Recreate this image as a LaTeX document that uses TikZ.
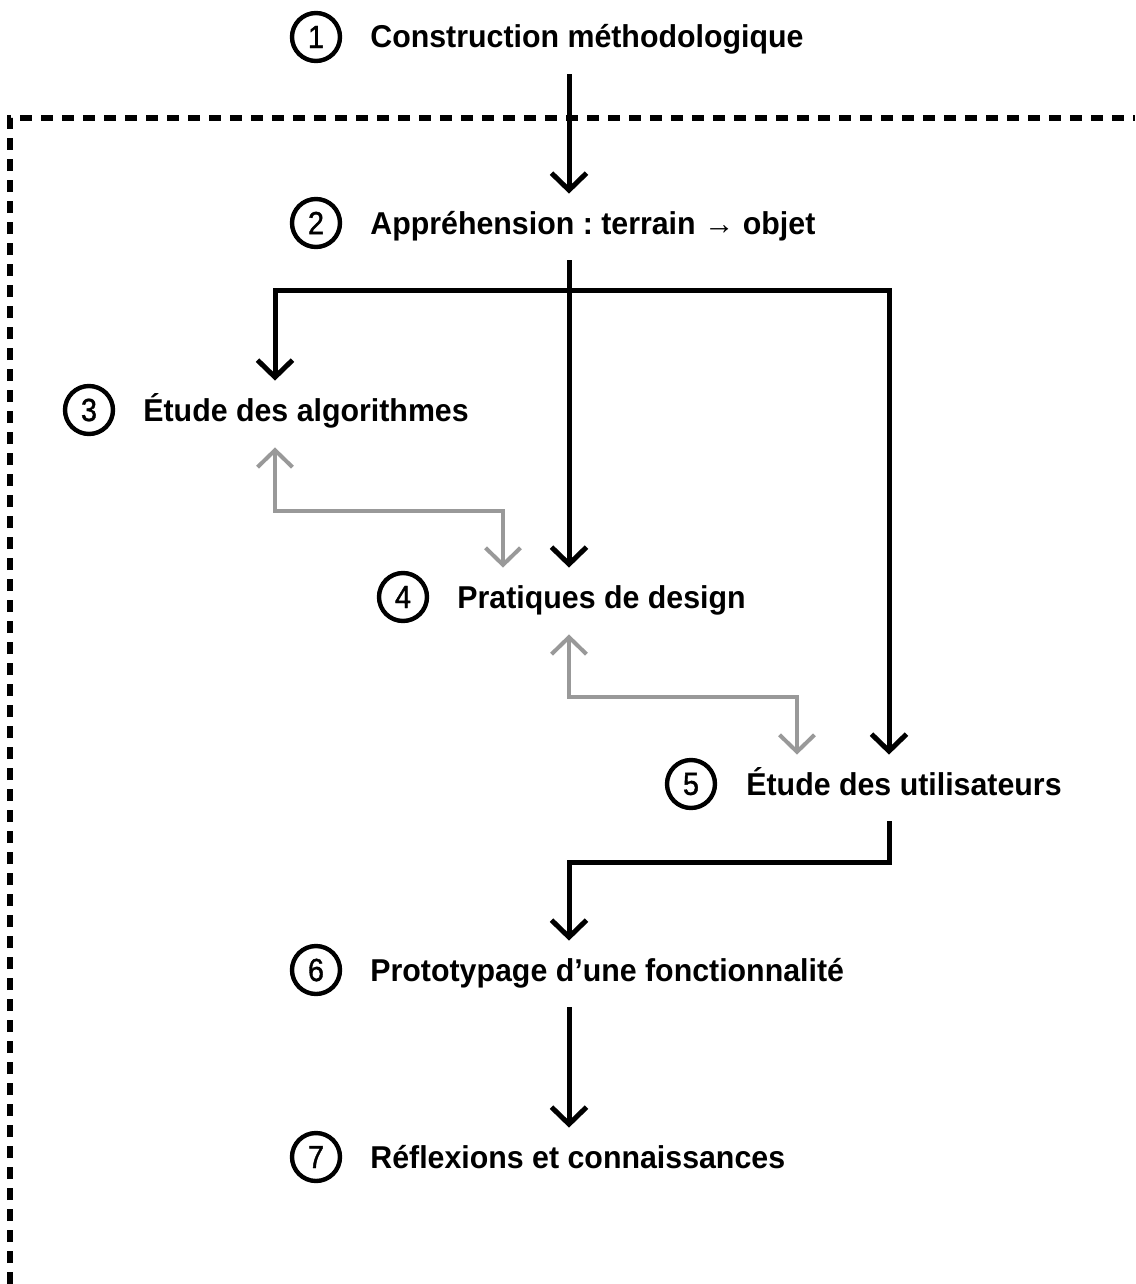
\documentclass[tikz,border=0pt]{standalone}
\usepackage{fontspec}
\setmainfont{Liberation Sans}[FakeStretch=0.96]
\newfontfamily\numfont{Liberation Sans}[FakeStretch=0.9,FakeBold=1.2]
\usetikzlibrary{arrows.meta}
\tikzset{mybarb/.tip={Straight Barb[length=8.5pt,width=17.5pt,line join=miter]}}
\frenchspacing
\begin{document}
\begin{tikzpicture}[x=0.5pt,y=-0.5pt,
  lbl/.style={anchor=base west,inner sep=0pt,text height=20pt,text depth=13pt,
    font=\fontsize{15.8pt}{18pt}\selectfont\bfseries},
  num/.style={circle,draw=black,line width=2.2pt,minimum size=24pt,inner sep=0pt,
    font=\fontsize{16pt}{18pt}\numfont},
  blk/.style={draw=black,line width=2.5pt,arrows={-mybarb}},
  blkboth/.style={draw=black,line width=2.5pt,arrows={mybarb-mybarb}},
  gry/.style={draw=black!40,line width=2pt,arrows={mybarb-mybarb}},
  frame/.style={draw=black,line width=3pt,dash pattern=on 6pt off 4.5pt}]
\useasboundingbox (0,0) rectangle (1135,1284);
% frame
\draw[frame] (10,1284) -- (10,118) -- (1135,118);
% numbers
\node[num] (c1) at (316,37) {1};
\node[num] (c2) at (316,223) {2};
\node[num] (c3) at (89,410) {3};
\node[num] (c4) at (403,597) {4};
\node[num] (c5) at (691,784) {5};
\node[num] (c6) at (316,970) {6};
\node[num] (c7) at (316,1157) {7};
% labels
\node[lbl] (t1) at (370,48) {Construction méthodologique};
\node[lbl] (t2) at (370,234) {Appréhension : terrain → objet};
\node[lbl] (t3) at (143,421) {Étude des algorithmes};
\node[lbl] (t4) at (457,608) {Pratiques de design};
\node[lbl] (t5) at (746,795) {Étude des utilisateurs};
\node[lbl] (t6) at (370,981) {Prototypage d’une fonctionnalité};
\node[lbl] (t7) at (370,1168) {Réflexions et connaissances};
% helper coordinates
\coordinate (m) at (569,0);
\coordinate (xl) at (275,290);
\coordinate (xr) at (889,290);
\coordinate (ga) at (275,511);
\coordinate (gb) at (503,511);
\coordinate (gc) at (569,697);
\coordinate (gd) at (797,697);
\coordinate (ka) at (889,862);
\coordinate (kb) at (569,862);
% connectors
\draw[blk] (t1.south -| m) -- (t2.north -| m);
\draw[blk] (t2.south -| m) -- (t4.north -| m);
\draw[blkboth] (xl |- t3.north) -- (xl) -- (xr) -- (xr |- t5.north);
\draw[gry] (ga |- t3.south) -- (ga) -- (gb) -- (gb |- t4.north);
\draw[gry] (gc |- t4.south) -- (gc) -- (gd) -- (gd |- t5.north);
\draw[blk] (ka |- t5.south) -- (ka) -- (kb) -- (kb |- t6.north);
\draw[blk] (t6.south -| m) -- (t7.north -| m);
\end{tikzpicture}
\end{document}
